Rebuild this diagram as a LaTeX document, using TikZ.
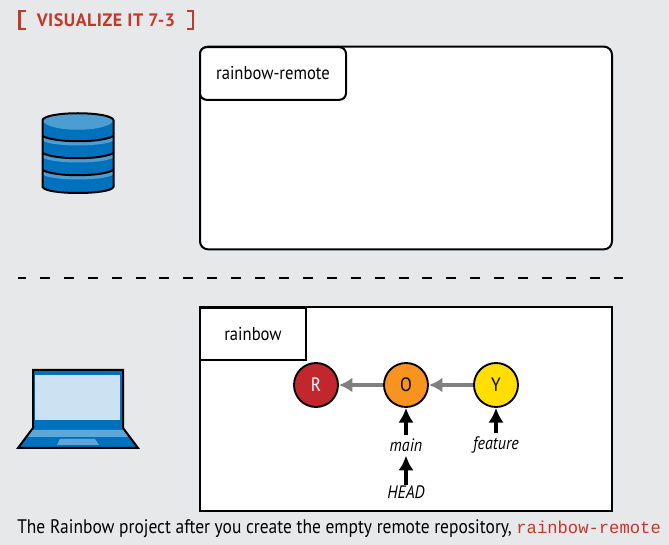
\documentclass[tikz,border=0pt]{standalone}
\usepackage{fontspec}
\setmainfont[FakeStretch=0.89]{PT Sans}
\setmonofont{Liberation Mono}
\newfontfamily\headfont[LetterSpace=3]{PT Sans}
\usetikzlibrary{arrows.meta,positioning}
\definecolor{pagegray}{RGB}{231,232,234}
\definecolor{bookred}{RGB}{192,57,43}
\definecolor{dbblue}{RGB}{0,113,188}
\definecolor{dblight}{RGB}{78,157,210}
\definecolor{screenblue}{RGB}{204,226,242}
\definecolor{padblue}{RGB}{96,167,216}
\definecolor{commitred}{RGB}{193,39,45}
\definecolor{commitorange}{RGB}{247,147,30}
\definecolor{commityellow}{RGB}{255,222,0}
\tikzset{
  commit/.style={circle, draw=black, line width=1.4pt, minimum size=33pt, inner sep=0pt, font=\fontsize{14.5}{15}\selectfont},
  parentarrow/.style={-{Latex[length=10pt,width=11pt]}, draw=gray, line width=2.6pt},
  refarrow/.style={-{Latex[length=11pt,width=11.5pt]}, line width=2.5pt},
  reflabel/.style={font=\fontsize{13.5}{14}\selectfont\itshape, inner sep=0pt},
  repolabel/.style={font=\fontsize{14}{15}\selectfont, inner sep=0pt},
  repobox/.style={draw=black, fill=white, line width=1.5pt, inner sep=0pt},
}
\begin{document}
\begin{tikzpicture}[x=0.75pt, y=-0.75pt]
  \useasboundingbox (0,0) rectangle (669,545);
  \fill[pagegray] (0,0) rectangle (669,545);
  % heading
  \draw[bookred, line width=1.9pt] (25.5,11) -- (19.5,11) -- (19.5,29) -- (25.5,29);
  \draw[bookred, line width=1.9pt] (187,11) -- (193,11) -- (193,29) -- (187,29);
  \node[text=bookred, inner sep=0pt, font=\fontsize{13.5}{14}\headfont\bfseries] (heading) at (106,20) {VISUALIZE IT 7-3};
  % database
  \fill[dbblue] (42.5,120) -- (42.5,187) .. controls (46,195) and (110,195) .. (113.5,187) -- (113.5,120) -- cycle;
  \fill[dblight] (42.5,120) .. controls (46,111) and (110,111) .. (113.5,120) .. controls (110,133) and (46,133) .. cycle;
  \foreach \y in {136,153,170} {
    \fill[dblight] (43,\y+1) .. controls (55,\y+7) and (101,\y+7) .. (113,\y+1) -- (113,\y+5) .. controls (101,\y+11) and (55,\y+11) .. (43,\y+5) -- cycle;
    \draw[black, line width=1.5pt] (42.5,\y) .. controls (55,\y+7) and (101,\y+7) .. (113.5,\y);
  }
  \draw[black, line width=1.5pt, line join=round] (42.5,120) .. controls (46,111) and (110,111) .. (113.5,120) -- (113.5,187) .. controls (110,195) and (46,195) .. (42.5,187) -- cycle;
  % laptop
  \fill[dbblue, draw=black, line width=1.5pt] (33,428) -- (33,370) -- (123,370) -- (123,428) -- (138,448) -- (18,448) -- cycle;
  \fill[screenblue] (35,375) rectangle (120,420);
  \fill[padblue] (33,430) -- (123,430) -- (128,437) -- (28,437) -- cycle;
  \fill[padblue] (60,439) -- (95,439) -- (99,445) -- (57,445) -- cycle;
  % remote repository
  \node[repobox, rounded corners=6pt, minimum width=309pt, minimum height=152pt] (remote) at (406,148) {};
  \node[repobox, rounded corners=5pt, minimum width=109.5pt, minimum height=39.5pt, repolabel] (remotelabel) at (273,73.5) {rainbow-remote};
  % divider
  \draw[line width=1.9pt, dash pattern=on 7.5pt off 10.43pt, dash phase=1.5pt] (18,278) -- (623,278);
  % local repository
  \node[repobox, minimum width=309pt, minimum height=153pt] (local) at (406,409) {};
  \node[repobox, minimum width=80pt, minimum height=39pt, repolabel] (locallabel) at (253,334) {rainbow};
  % commits
  \node[commit, fill=commitred, text=white] (R) at (316,385) {R};
  \node[commit, fill=commitorange] (O) at (406,385) {O};
  \node[commit, fill=commityellow] (Y) at (496,385) {Y};
  \draw[parentarrow] (O) -- (R);
  \draw[parentarrow] (Y) -- (O);
  % refs
  \node[reflabel] (main) at (406,445) {main};
  \node[reflabel] (feature) at (496,445) {feature};
  \node[reflabel] (HEAD) at (406,492) {HEAD};
  \draw[refarrow] (main.north) ++(0,-3) coordinate (mainfoot) (mainfoot) -- (O);
  \draw[refarrow] (feature.north) ++(0,-3) coordinate (featurefoot) (featurefoot) -- (Y);
  \draw[refarrow, shorten >=3pt] (HEAD.north) -- (main.south);
  % caption
  \node[anchor=base west, inner sep=0pt, font=\fontsize{14.7}{15}\selectfont] (caption) at (17,534) {The Rainbow project after you create the empty remote repository, \textcolor{bookred}{\fontsize{12.9}{13}\ttfamily rainbow-remote}};
\end{tikzpicture}
\end{document}
